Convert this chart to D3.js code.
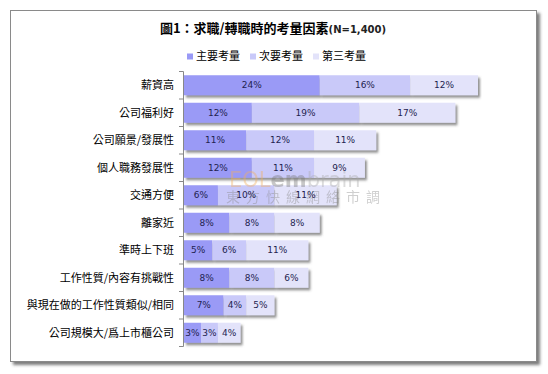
<!DOCTYPE html>
<html>
<head>
<meta charset="utf-8">
<script src="https://cdn.jsdelivr.net/npm/d3@7"></script>
<style>
	body { margin: 0; background: #fff; }
	svg { display: block; }
</style>
</head>
<body>
<svg id="chart" width="548" height="374"></svg>
<script>
var categories = ["薪資高", "公司福利好", "公司願景/發展性", "個人職務發展性", "交通方便",
	"離家近", "準時上下班", "工作性質/內容有挑戰性", "與現在做的工作性質類似/相同", "公司規模大/爲上市櫃公司"];
var seriesNames = ["主要考量", "次要考量", "第三考量"];
var primary = [24, 12, 11, 12, 6, 8, 5, 8, 7, 3];
var secondary = [16, 19, 12, 11, 10, 8, 6, 8, 4, 3];
var third = [12, 17, 11, 9, 11, 8, 11, 6, 5, 4];

var colours = ["#9a9af6", "#c9c9f9", "#e3e3fa"];

var rows = categories.map(function (c, i) {
	return { cat: c, "主要考量": primary[i], "次要考量": secondary[i], "第三考量": third[i] };
});

var svg = d3.select("#chart");
var defs = svg.append("defs");

defs.append("filter")
	.attr("id", "frameShadow")
	.attr("x", "-5%").attr("y", "-5%").attr("width", "112%").attr("height", "115%")
  .append("feDropShadow")
	.attr("dx", 3).attr("dy", 3)
	.attr("stdDeviation", 1.5)
	.attr("flood-color", "#444")
	.attr("flood-opacity", 0.7);

defs.append("filter")
	.attr("id", "barShadow")
	.attr("x", "-5%").attr("y", "-20%").attr("width", "115%").attr("height", "160%")
  .append("feDropShadow")
	.attr("dx", 2).attr("dy", 2.5)
	.attr("stdDeviation", 1)
	.attr("flood-color", "#555")
	.attr("flood-opacity", 0.65);

// outer frame
svg.append("rect")
	.attr("x", 10.5)
	.attr("y", 10.5)
	.attr("width", 526)
	.attr("height", 351)
	.attr("fill", "#fff")
	.attr("stroke", "#8a8a8a")
	.attr("stroke-width", 1)
	.attr("filter", "url(#frameShadow)");

// title
var title = svg.append("text")
	.attr("x", 273)
	.attr("y", 33)
	.attr("text-anchor", "middle")
	.attr("fill", "#000");
title.append("tspan")
	.attr("font-family", "'Noto Sans CJK TC', sans-serif")
	.attr("font-size", 13)
	.attr("font-weight", "bold")
	.text("圖1：求職/轉職時的考量因素");
title.append("tspan")
	.attr("font-family", "'DejaVu Sans', sans-serif")
	.attr("font-size", 10)
	.attr("font-weight", "bold")
	.attr("fill", "#222")
	.text("(N=1,400)");

// legend
var legendX = [187, 250, 313];
var legend = svg.append("g").attr("class", "legend");
legend.selectAll("rect")
	.data(seriesNames)
	.enter()
  .append("rect")
	.attr("x", function (d, i) { return legendX[i]; })
	.attr("y", 53.5)
	.attr("width", 6)
	.attr("height", 6)
	.attr("fill", function (d, i) { return colours[i]; });
legend.selectAll("text")
	.data(seriesNames)
	.enter()
  .append("text")
	.attr("x", function (d, i) { return legendX[i] + 9; })
	.attr("y", 59.5)
	.attr("font-family", "'Noto Sans CJK TC', sans-serif")
	.attr("font-size", 11)
	.attr("fill", "#000")
	.text(function (d) { return d; });

// scales
var x = d3.scaleLinear().domain([0, 52]).range([184, 478]);
var y = d3.scaleBand().domain(categories).range([71.5, 346.5]);
var barH = 20;

var stacked = d3.stack().keys(seriesNames)(rows);

// bars
var rowGroups = svg.append("g")
	.attr("class", "bars")
  .selectAll("g")
	.data(rows)
	.enter()
  .append("g")
	.attr("filter", "url(#barShadow)");

rowGroups.selectAll("rect")
	.data(function (d, i) {
		return stacked.map(function (s, k) {
			return { k: k, cat: d.cat, v0: s[i][0], v1: s[i][1] };
		});
	})
	.enter()
  .append("rect")
	.attr("x", function (d) { return x(d.v0); })
	.attr("y", function (d) { return y(d.cat) + (y.bandwidth() - barH) / 2; })
	.attr("width", function (d) { return x(d.v1) - x(d.v0); })
	.attr("height", barH)
	.attr("fill", function (d) { return colours[d.k]; });

// axis
var axis = svg.append("g").attr("class", "axis");
axis.append("line")
	.attr("x1", 183.5).attr("x2", 183.5)
	.attr("y1", 71.5).attr("y2", 346.5)
	.attr("stroke", "#888");
axis.selectAll("line.tick")
	.data(d3.range(categories.length + 1))
	.enter()
  .append("line")
	.attr("class", "tick")
	.attr("x1", 179).attr("x2", 183.5)
	.attr("y1", function (d) { return 71.5 + d * y.step(); })
	.attr("y2", function (d) { return 71.5 + d * y.step(); })
	.attr("stroke", "#888");
axis.selectAll("text")
	.data(categories)
	.enter()
  .append("text")
	.attr("x", 174)
	.attr("y", function (d) { return y(d) + y.bandwidth() / 2; })
	.attr("dy", "0.36em")
	.attr("text-anchor", "end")
	.attr("font-family", "'Noto Sans CJK TC', sans-serif")
	.attr("font-size", 11)
	.attr("fill", "#000")
	.text(function (d) { return d; });

// watermark
var wm = svg.append("g").attr("opacity", 0.4);
var logo = wm.append("text")
	.attr("x", 229)
	.attr("y", 187)
	.attr("font-family", "'DejaVu Sans', sans-serif")
	.attr("font-size", 21);
logo.append("tspan").attr("fill", "#f2b060").text("EOL");
logo.append("tspan").attr("fill", "#777").attr("font-weight", "bold").text("em");
logo.append("tspan").attr("fill", "#aaa").text("brain");
wm.append("text")
	.attr("x", 226)
	.attr("y", 202)
	.attr("font-family", "'Noto Sans CJK TC', sans-serif")
	.attr("font-size", 14)
	.attr("letter-spacing", 6)
	.attr("fill", "#888")
	.text("東方快線網絡市調");

// value labels
var labels = svg.append("g").attr("class", "values");
stacked.forEach(function (s) {
	labels.selectAll(null)
		.data(s)
		.enter()
	  .append("text")
		.attr("x", function (d) { return (x(d[0]) + x(d[1])) / 2; })
		.attr("y", function (d) { return y(d.data.cat) + y.bandwidth() / 2; })
		.attr("dy", "0.36em")
		.attr("text-anchor", "middle")
		.attr("font-family", "'DejaVu Sans', sans-serif")
		.attr("font-size", 9)
		.attr("fill", "#232350")
		.text(function (d) { return (d[1] - d[0]) + "%"; });
});
</script>
</body>
</html>
